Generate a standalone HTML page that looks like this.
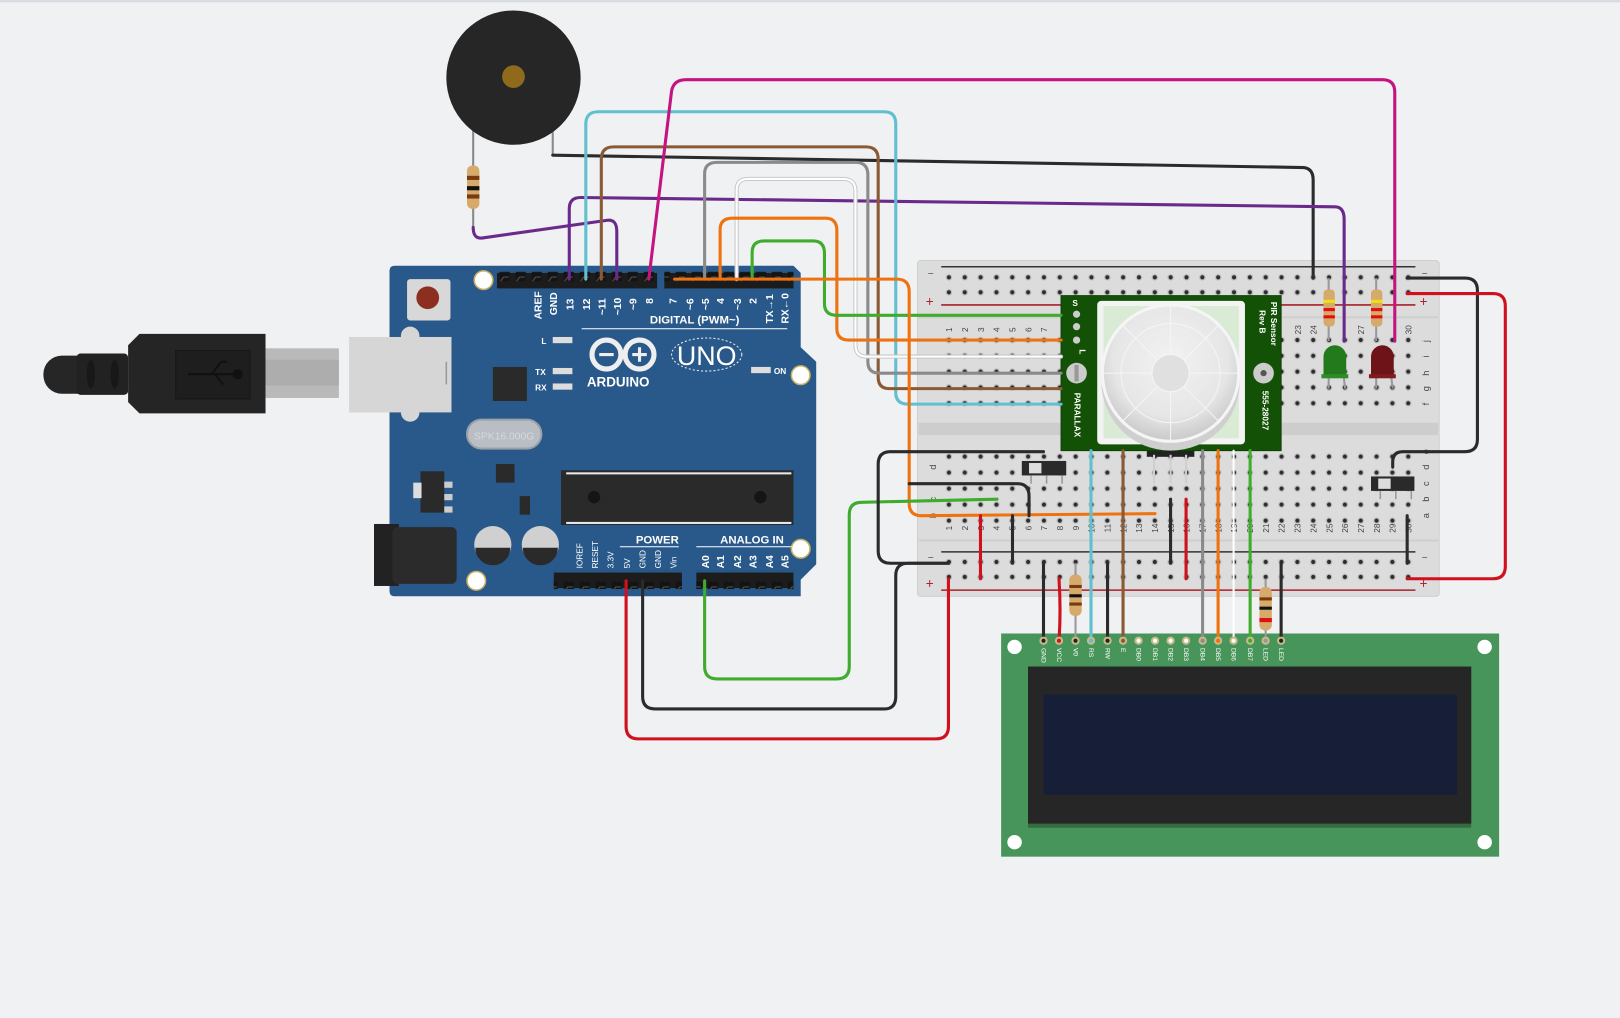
<!DOCTYPE html>
<html><head><meta charset="utf-8">
<style>
html,body{margin:0;padding:0;background:#eff1f3;}
svg{display:block;}
text{font-family:"Liberation Sans",sans-serif;}
</style></head>
<body>
<svg width="1620" height="1018" viewBox="0 0 1568 985" xmlns="http://www.w3.org/2000/svg">
<defs>
<pattern id="holes" x="910.8" y="0" width="15.33" height="15.3" patternUnits="userSpaceOnUse">
<circle cx="7.67" cy="7.65" r="3.2" fill="#bdbdbd"/><circle cx="7.67" cy="7.65" r="2" fill="#2d2d2d"/>
</pattern>
<pattern id="holes2" x="910.8" y="0" width="15.33" height="14.5" patternUnits="userSpaceOnUse">
<circle cx="7.67" cy="7.25" r="3.2" fill="#bdbdbd"/><circle cx="7.67" cy="7.25" r="2" fill="#2d2d2d"/>
</pattern>
<pattern id="holes3" x="910.8" y="0" width="15.33" height="15.5" patternUnits="userSpaceOnUse">
<circle cx="7.67" cy="7.75" r="3.2" fill="#bdbdbd"/><circle cx="7.67" cy="7.75" r="2" fill="#2d2d2d"/>
</pattern>
<radialGradient id="dome" cx="0.5" cy="0.4" r="0.6"><stop offset="0" stop-color="#f2f2f2"/><stop offset="0.7" stop-color="#e6e6e6"/><stop offset="1" stop-color="#c9c9c9"/></radialGradient>
<pattern id="hdr" x="0" y="0" width="15.5" height="20" patternUnits="userSpaceOnUse">
<rect x="3" y="3" width="10" height="9" fill="#141414"/><path d="M4 12 L7 8 L12 8" stroke="#555" fill="none" stroke-width="1"/>
</pattern>
</defs>
<rect x="0" y="0" width="1568" height="2" fill="#d5dae0"/>

<!-- USB cable -->
<g>
<rect x="42" y="344" width="55" height="37" rx="18" fill="#262626"/>
<rect x="74" y="342" width="50" height="40" rx="4" fill="#222"/>
<ellipse cx="88" cy="362" rx="4" ry="14" fill="#181818"/><ellipse cx="111" cy="362" rx="4" ry="14" fill="#181818"/>
<path d="M124 334 L135 323 H257 V400 H135 L124 389 Z" fill="#252525"/>
<rect x="170" y="339" width="72" height="47" fill="#1e1e1e" stroke="#181818"/>
<path d="M182 362 H232 M205 362 L214 350 L220 350 M208 362 L216 372" stroke="#111" stroke-width="2" fill="none"/><circle cx="230" cy="362" r="5" fill="#111"/>
<rect x="257" y="337" width="71" height="48" fill="#b9b9b9"/>
<rect x="257" y="348" width="71" height="25" fill="#adadad"/>
<rect x="338" y="326" width="99" height="73" fill="#d6d6d6"/>
</g>

<!-- Arduino -->
<g>
<path d="M382 257 H768 L775 264 V336 L790 350 V546 L775 561 V577 H382 Q377 577 377 572 V262 Q377 257 382 257 Z" fill="#29598a"/>
<circle cx="397" cy="325" r="9" fill="#d6d6d6"/><circle cx="397" cy="399" r="9" fill="#d6d6d6"/>
<rect x="338" y="326" width="99" height="73" fill="#d6d6d6"/>
<line x1="432" y1="350" x2="432" y2="372" stroke="#999" stroke-width="1.5"/>
<rect x="394" y="270" width="42" height="40" rx="3" fill="#d8d8d8"/>
<circle cx="414" cy="288" r="11" fill="#8c2f20"/>
<rect x="477" y="355" width="33" height="33" fill="#2a2a2a"/>
<rect x="452" y="406" width="72" height="28" rx="14" fill="#b9bec4" stroke="#9aa0a6" stroke-width="2"/>
<text x="488" y="425" font-size="10" fill="#d6d8da" text-anchor="middle">SPK16.000G</text>
<rect x="480" y="449" width="18" height="18" fill="#2a2a2a"/>
<rect x="407" y="456" width="23" height="40" fill="#2a2a2a"/><rect x="400" y="467" width="8" height="15" fill="#ddd"/>
<rect x="430" y="478" width="8" height="6" fill="#ccc"/><rect x="430" y="466" width="8" height="6" fill="#ccc"/><rect x="430" y="490" width="8" height="6" fill="#ccc"/>
<rect x="503" y="480" width="10" height="18" fill="#2a2a2a"/>
<rect x="362" y="507" width="24" height="60" fill="#222"/><rect x="380" y="510" width="62" height="55" rx="5" fill="#2b2b2b"/>
<circle cx="477" cy="527" r="18" fill="#d0d0d0"/><path d="M460 530 A17 17 0 0 0 494 530 Z" fill="#2a2a2a"/>
<circle cx="523" cy="527" r="18" fill="#d0d0d0"/><path d="M506 530 A17 17 0 0 0 540 530 Z" fill="#2a2a2a"/>
<rect x="543" y="455" width="225" height="53" fill="#2a2a2a"/>
<circle cx="575" cy="481" r="6" fill="#151515"/><circle cx="736" cy="481" r="6" fill="#151515"/>
<g fill="#e8e8e8"><rect x="548" y="457" width="218" height="2"/><rect x="548" y="505" width="218" height="2"/></g>
<rect x="481" y="264" width="155" height="15" fill="#1c1c1c"/><rect x="481" y="262" width="155" height="18" fill="url(#hdr)"/>
<rect x="643" y="264" width="125" height="15" fill="#1c1c1c"/><rect x="643" y="262" width="125" height="18" fill="url(#hdr)"/>
<rect x="536" y="554" width="124" height="15" fill="#1c1c1c"/><rect x="536" y="552" width="124" height="18" fill="url(#hdr)"/>
<rect x="674" y="554" width="94" height="15" fill="#1c1c1c"/><rect x="674" y="552" width="94" height="18" fill="url(#hdr)"/>
<g fill="#fff"><circle cx="468" cy="271" r="9" stroke="#c8b060" stroke-width="1.5"/><circle cx="775" cy="363" r="9" stroke="#c8b060" stroke-width="1.5"/><circle cx="775" cy="531" r="9" stroke="#c8b060" stroke-width="1.5"/><circle cx="461" cy="562" r="9" stroke="#c8b060" stroke-width="1.5"/></g>
<g font-size="10" fill="#fff" font-weight="bold">
<text transform="translate(524,309) rotate(-90)">AREF</text>
<text transform="translate(539,305) rotate(-90)">GND</text>
<text transform="translate(555,300) rotate(-90)">13</text>
<text transform="translate(571,300) rotate(-90)">12</text>
<text transform="translate(586,305) rotate(-90)">~11</text>
<text transform="translate(601,305) rotate(-90)">~10</text>
<text transform="translate(616,300) rotate(-90)">~9</text>
<text transform="translate(632,294) rotate(-90)">8</text>
<text transform="translate(655,294) rotate(-90)">7</text>
<text transform="translate(671,300) rotate(-90)">~6</text>
<text transform="translate(686,300) rotate(-90)">~5</text>
<text transform="translate(701,294) rotate(-90)">4</text>
<text transform="translate(717,300) rotate(-90)">~3</text>
<text transform="translate(732,294) rotate(-90)">2</text>
<text transform="translate(748,313) rotate(-90)">TX→1</text>
<text transform="translate(763,313) rotate(-90)">RX←0</text>
<text x="629" y="313" font-size="11">DIGITAL (PWM~)</text>
<text x="657" y="526" font-size="11" text-anchor="end">POWER</text>
<text x="697" y="526" font-size="11">ANALOG IN</text>
<text transform="translate(564,550) rotate(-90)" font-size="8" font-weight="normal">IOREF</text>
<text transform="translate(579,550) rotate(-90)" font-size="8" font-weight="normal">RESET</text>
<text transform="translate(594,550) rotate(-90)" font-size="8" font-weight="normal">3.3V</text>
<text transform="translate(610,550) rotate(-90)" font-size="8" font-weight="normal">5V</text>
<text transform="translate(625,550) rotate(-90)" font-size="8" font-weight="normal">GND</text>
<text transform="translate(640,550) rotate(-90)" font-size="8" font-weight="normal">GND</text>
<text transform="translate(655,550) rotate(-90)" font-size="8" font-weight="normal">Vin</text>
<text transform="translate(686,550) rotate(-90)">A0</text>
<text transform="translate(701,550) rotate(-90)">A1</text>
<text transform="translate(717,550) rotate(-90)">A2</text>
<text transform="translate(732,550) rotate(-90)">A3</text>
<text transform="translate(748,550) rotate(-90)">A4</text>
<text transform="translate(763,550) rotate(-90)">A5</text>
<text x="524" y="333" font-size="8">L</text>
<text x="518" y="363" font-size="8">TX</text>
<text x="518" y="378" font-size="8">RX</text>
<text x="749" y="362" font-size="8">ON</text>
<text x="568" y="374" font-size="13">ARDUINO</text>
</g>
<line x1="563" y1="318" x2="762" y2="318" stroke="#fff" stroke-width="1"/>
<line x1="600" y1="529" x2="657" y2="529" stroke="#fff" stroke-width="1"/>
<line x1="674" y1="529" x2="766" y2="529" stroke="#fff" stroke-width="1"/>
<g fill="#ddd"><rect x="535" y="326" width="19" height="6"/><rect x="535" y="356" width="19" height="6"/><rect x="535" y="371" width="19" height="6"/><rect x="727" y="355" width="19" height="6"/></g>
<g stroke="#eee" stroke-width="5" fill="none"><circle cx="587" cy="343" r="14"/><circle cx="619" cy="343" r="14"/></g>
<path d="M580 343 H594 M612 343 H626 M619 336 V350" stroke="#eee" stroke-width="3"/>
<ellipse cx="684" cy="343" rx="34" ry="16" fill="none" stroke="#eee" stroke-width="1" stroke-dasharray="2 2"/>
<text x="684" y="353" font-size="26" fill="#fff" text-anchor="middle">UNO</text>
</g>

<!-- Breadboard -->
<g>
<rect x="888" y="252" width="505" height="325" rx="3" fill="#dcdcdc" stroke="#cfcfcf"/>
<rect x="889" y="409" width="503" height="12" fill="#cdcdcd"/>
<rect x="889" y="306" width="503" height="2" fill="#cfcfcf"/><rect x="889" y="522" width="503" height="2" fill="#cfcfcf"/>
<line x1="911" y1="258" x2="1370" y2="258" stroke="#333" stroke-width="1.5"/>
<line x1="911" y1="295" x2="1370" y2="295" stroke="#a8212a" stroke-width="1.5"/>
<line x1="911" y1="534" x2="1370" y2="534" stroke="#333" stroke-width="1.5"/>
<line x1="911" y1="571" x2="1370" y2="571" stroke="#a8212a" stroke-width="1.5"/>
<rect x="910.8" y="261.75" width="460" height="29" fill="url(#holes2)"/>
<rect x="910.8" y="322.35" width="460" height="76.5" fill="url(#holes)"/>
<rect x="910.8" y="429.25" width="460" height="77.5" fill="url(#holes3)"/>
<rect x="910.8" y="537.75" width="460" height="29" fill="url(#holes2)"/>
<g font-size="10" fill="#555">
<text x="898" y="268">−</text><text x="896" y="296" fill="#b02030" font-size="13">+</text>
<text x="1376" y="268">−</text><text x="1374" y="296" fill="#b02030" font-size="13">+</text>
<text x="898" y="543">−</text><text x="896" y="569" fill="#b02030" font-size="13">+</text>
<text x="1376" y="543">−</text><text x="1374" y="569" fill="#b02030" font-size="13">+</text>
</g>
<g font-size="9" fill="#444" text-anchor="middle">
<text transform="translate(1383,330) rotate(-90)">j</text><text transform="translate(1383,345) rotate(-90)">i</text><text transform="translate(1383,361) rotate(-90)">h</text><text transform="translate(1383,376) rotate(-90)">g</text><text transform="translate(1383,391) rotate(-90)">f</text>
<text transform="translate(1383,437) rotate(-90)">e</text><text transform="translate(1383,452) rotate(-90)">d</text><text transform="translate(1383,468) rotate(-90)">c</text><text transform="translate(1383,483) rotate(-90)">b</text><text transform="translate(1383,499) rotate(-90)">a</text>
<text transform="translate(906,452) rotate(-90)">d</text><text transform="translate(906,483) rotate(-90)">c</text><text transform="translate(906,499) rotate(-90)">b</text>
</g>
<g font-size="8" fill="#444" text-anchor="middle">
<text transform="translate(921.5,319) rotate(-90)">1</text><text transform="translate(936.8,319) rotate(-90)">2</text><text transform="translate(952.2,319) rotate(-90)">3</text><text transform="translate(967.5,319) rotate(-90)">4</text><text transform="translate(982.8,319) rotate(-90)">5</text><text transform="translate(998.2,319) rotate(-90)">6</text><text transform="translate(1013.5,319) rotate(-90)">7</text>
<text transform="translate(1259,319) rotate(-90)">23</text><text transform="translate(1274,319) rotate(-90)">24</text><text transform="translate(1320,319) rotate(-90)">27</text><text transform="translate(1366,319) rotate(-90)">30</text>
<text transform="translate(921.5,511) rotate(-90)">1</text><text transform="translate(936.8,511) rotate(-90)">2</text><text transform="translate(952.2,511) rotate(-90)">3</text><text transform="translate(967.5,511) rotate(-90)">4</text><text transform="translate(982.8,511) rotate(-90)">5</text><text transform="translate(998.2,511) rotate(-90)">6</text><text transform="translate(1013.5,511) rotate(-90)">7</text><text transform="translate(1028.8,511) rotate(-90)">8</text><text transform="translate(1044.2,511) rotate(-90)">9</text><text transform="translate(1059.5,511) rotate(-90)">10</text><text transform="translate(1074.8,511) rotate(-90)">11</text><text transform="translate(1090.2,511) rotate(-90)">12</text><text transform="translate(1105.5,511) rotate(-90)">13</text><text transform="translate(1120.8,511) rotate(-90)">14</text><text transform="translate(1136.2,511) rotate(-90)">15</text><text transform="translate(1151.5,511) rotate(-90)">16</text><text transform="translate(1166.8,511) rotate(-90)">17</text><text transform="translate(1182.2,511) rotate(-90)">18</text><text transform="translate(1197.5,511) rotate(-90)">19</text><text transform="translate(1212.8,511) rotate(-90)">20</text><text transform="translate(1228.2,511) rotate(-90)">21</text><text transform="translate(1243.5,511) rotate(-90)">22</text><text transform="translate(1258.8,511) rotate(-90)">23</text><text transform="translate(1274.2,511) rotate(-90)">24</text><text transform="translate(1289.5,511) rotate(-90)">25</text><text transform="translate(1304.8,511) rotate(-90)">26</text><text transform="translate(1320.2,511) rotate(-90)">27</text><text transform="translate(1335.5,511) rotate(-90)">28</text><text transform="translate(1350.8,511) rotate(-90)">29</text><text transform="translate(1366,511) rotate(-90)">30</text>
</g>
</g>

<!-- LCD -->
<g>
<rect x="969" y="613" width="482" height="216" fill="#47955a"/>
<circle cx="982" cy="626" r="7" fill="#fff"/><circle cx="1437" cy="626" r="7" fill="#fff"/><circle cx="982" cy="815" r="7" fill="#fff"/><circle cx="1437" cy="815" r="7" fill="#fff"/>
<rect x="995" y="645" width="429" height="156" fill="#356b41"/>
<rect x="995" y="645" width="429" height="152" fill="#262626"/>
<rect x="1010" y="672" width="400" height="97" fill="#161e38"/>
<g font-size="6.5" fill="#fff" text-anchor="start">
<text transform="translate(1008,627) rotate(90)">GND</text><text transform="translate(1023,627) rotate(90)">VCC</text><text transform="translate(1039,627) rotate(90)">V0</text><text transform="translate(1054,627) rotate(90)">RS</text><text transform="translate(1070,627) rotate(90)">RW</text><text transform="translate(1085,627) rotate(90)">E</text><text transform="translate(1100,627) rotate(90)">DB0</text><text transform="translate(1116,627) rotate(90)">DB1</text><text transform="translate(1131,627) rotate(90)">DB2</text><text transform="translate(1146,627) rotate(90)">DB3</text><text transform="translate(1162,627) rotate(90)">DB4</text><text transform="translate(1177,627) rotate(90)">DB5</text><text transform="translate(1192,627) rotate(90)">DB6</text><text transform="translate(1208,627) rotate(90)">DB7</text><text transform="translate(1223,627) rotate(90)">LED</text><text transform="translate(1238,627) rotate(90)">LED</text>
</g>
</g>

<!-- PIR -->
<g>
<rect x="1110" y="432" width="46" height="10" fill="#222"/>
<g stroke="#cfcfcf" stroke-width="2"><line x1="1117" y1="440" x2="1117" y2="468"/><line x1="1133" y1="440" x2="1133" y2="468"/><line x1="1148" y1="440" x2="1148" y2="468"/></g>
<rect x="1027" y="286" width="213" height="150" fill="#135206" stroke="#0e4004"/>
<rect x="1062" y="291" width="143" height="139" rx="4" fill="#f3f3f3"/>
<rect x="1068" y="296" width="131" height="128" fill="#d9ead5"/>
<circle cx="1133" cy="369" r="67" fill="#cfcfcf"/>
<circle cx="1133" cy="361" r="66" fill="url(#dome)" stroke="#f5f5f5" stroke-width="3"/>
<circle cx="1133" cy="361" r="48" fill="none" stroke="#f5f5f5" stroke-width="1"/>
<circle cx="1133" cy="361" r="18" fill="#e0e0e0" stroke="#f5f5f5"/>
<g stroke="#f5f5f5" stroke-width="1"><line x1="1133" y1="295" x2="1133" y2="343"/><line x1="1067" y1="361" x2="1115" y2="361"/><line x1="1151" y1="361" x2="1199" y2="361"/><line x1="1133" y1="379" x2="1133" y2="427"/><line x1="1086" y1="314" x2="1120" y2="348"/><line x1="1180" y1="314" x2="1146" y2="348"/><line x1="1086" y1="408" x2="1120" y2="374"/><line x1="1180" y1="408" x2="1146" y2="374"/></g>
<g fill="#ccc"><circle cx="1042" cy="304" r="3.5"/><circle cx="1042" cy="316" r="3.5"/><circle cx="1042" cy="329" r="3.5"/></g>
<circle cx="1042" cy="361" r="10" fill="#ccc"/><rect x="1040" y="353" width="4" height="16" fill="#999"/>
<circle cx="1223" cy="361" r="10" fill="#ccc"/><circle cx="1223" cy="361" r="3" fill="#555"/>
<g fill="#fff" font-size="8" font-family="Liberation Mono,monospace" font-weight="bold">
<text x="1038" y="296">S</text><text transform="translate(1045,338) rotate(90)">L</text>
<text transform="translate(1040,380) rotate(90)">PARALLAX</text>
<text transform="translate(1230,292) rotate(90)">PIR Sensor</text>
<text transform="translate(1219,300) rotate(90)">Rev B</text>
<text transform="translate(1222,378) rotate(90)">555-28027</text>
</g>
</g>

<!-- switches -->
<g>
<rect x="989" y="446" width="43" height="14" fill="#2a2a2a"/><rect x="996" y="448" width="12" height="10" fill="#ddd"/>
<g stroke="#999" stroke-width="1.5"><line x1="998" y1="460" x2="998" y2="468"/><line x1="1013" y1="460" x2="1013" y2="468"/><line x1="1028" y1="460" x2="1028" y2="468"/></g>
<rect x="1327" y="461" width="42" height="14" fill="#2a2a2a"/><rect x="1334" y="463" width="12" height="10" fill="#ddd"/>
<g stroke="#999" stroke-width="1.5"><line x1="1336" y1="475" x2="1336" y2="483"/><line x1="1351" y1="475" x2="1351" y2="483"/><line x1="1366" y1="475" x2="1366" y2="483"/></g>
</g>

<!-- LEDs & resistors on board -->
<g>
<g stroke="#999" stroke-width="2"><line x1="1286" y1="269" x2="1286" y2="330"/><line x1="1332" y1="269" x2="1332" y2="330"/>
<line x1="1286" y1="360" x2="1286" y2="376"/><line x1="1300" y1="360" x2="1302" y2="376"/><line x1="1332" y1="360" x2="1332" y2="376"/><line x1="1346" y1="360" x2="1348" y2="376"/></g>
<rect x="1281" y="280" width="11" height="36" rx="4" fill="#d6aa6a"/><rect x="1281" y="290" width="11" height="3" fill="#f0e010"/><rect x="1281" y="298" width="11" height="3" fill="#e01010"/><rect x="1281" y="305" width="11" height="3" fill="#e01010"/>
<rect x="1327" y="280" width="11" height="36" rx="4" fill="#d6aa6a"/><rect x="1327" y="290" width="11" height="3" fill="#f0e010"/><rect x="1327" y="298" width="11" height="3" fill="#e01010"/><rect x="1327" y="305" width="11" height="3" fill="#e01010"/>
<path d="M1281 365 V345 A11 11 0 0 1 1303 345 V365 Z" fill="#237a1c"/><rect x="1279" y="362" width="26" height="4" fill="#2d8d26"/>
<path d="M1327 365 V345 A11 11 0 0 1 1349 345 V365 Z" fill="#6e1418"/><rect x="1325" y="362" width="26" height="4" fill="#801b20"/>
</g>

<!-- Buzzer -->
<g>
<line x1="458" y1="125" x2="458" y2="220" stroke="#888" stroke-width="2"/>
<line x1="535" y1="125" x2="535" y2="150" stroke="#888" stroke-width="2"/>
<ellipse cx="497" cy="75" rx="65" ry="65" fill="#262626"/>
<circle cx="497" cy="74" r="11" fill="#8f6a1c"/>
<rect x="452" y="160" width="12" height="42" rx="5" fill="#d6aa6a"/>
<rect x="452" y="170" width="12" height="4" fill="#7a3a10"/><rect x="452" y="180" width="12" height="4" fill="#111"/><rect x="452" y="188" width="12" height="4" fill="#7a3a10"/>
</g>

<!-- Wires -->
<g fill="none" stroke-width="3" stroke-linecap="round" stroke-linejoin="round">
<path d="M535 150 L1262 162 Q1271 163 1271 174 V269" stroke="#2b2b2b"/>
<path d="M458 220 Q458 232 468 230 L588 213 Q597 212 597 224 V270" stroke="#6a2a8c"/>
<path d="M551 270 V202 Q551 191 562 191 L1292 200 Q1301 200 1301 212 V330" stroke="#6a2a8c"/>
<path d="M567 270 V120 Q567 108 579 108 H856 Q867 108 867 120 V380 Q867 391 879 391 H1027" stroke="#62bfd0"/>
<path d="M582 270 V154 Q582 142 594 142 H838 Q850 142 850 154 V365 Q850 376 861 376 H1027" stroke="#8a5a34"/>
<path d="M628 270 L650 88 Q652 77 664 77 H1338 Q1350 77 1350 89 V330" stroke="#c41480"/>
<path d="M682 270 V168 Q682 157 694 157 H828 Q840 157 840 169 V350 Q840 361 851 361 H1027" stroke="#8a8a8a"/>
<path d="M713 270 V184 Q713 173 724 173 H816 Q828 173 828 185 V334 Q828 345 839 345 H1027" stroke="#c8c8c8" stroke-width="4"/>
<path d="M713 270 V184 Q713 173 724 173 H816 Q828 173 828 185 V334 Q828 345 839 345 H1027" stroke="#fff" stroke-width="2"/>
<path d="M697 270 V222 Q697 211 709 211 H799 Q810 211 810 223 V318 Q810 329 822 329 H1027" stroke="#ee7310"/>
<path d="M728 270 V244 Q728 233 740 233 H787 Q798 233 798 245 V294 Q798 305 810 305 H1027" stroke="#3fac2d"/>
<path d="M653 270 H868 Q880 270 880 282 V487 Q880 499 892 499 L1118 497" stroke="#ee7310"/>
<path d="M682 562 V645 Q682 657 694 657 H810 Q822 657 822 645 V498 Q822 486 834 486 L965 483" stroke="#3fac2d"/>
<path d="M622 562 V674 Q622 686 634 686 H856 Q867 686 867 674 V557 Q867 545 879 545 H918" stroke="#2b2b2b"/>
<path d="M606 562 V703 Q606 715 618 715 H906 Q918 715 918 703 V560" stroke="#d0101c"/>
<path d="M1010 437 H862 Q850 437 850 449 V533 Q850 545 862 545 H918" stroke="#2b2b2b"/>
<path d="M880 468 H985 Q996 468 996 480 V499" stroke="#2b2b2b"/>
<path d="M1362 269 H1418 Q1430 269 1430 281 V425 Q1430 437 1418 437 H1358 Q1348 437 1348 447 V452" stroke="#2b2b2b"/>
<path d="M1362 284 H1445 Q1457 284 1457 296 V548 Q1457 560 1445 560 H1362" stroke="#d0101c"/>
<path d="M1362 499 V545" stroke="#2b2b2b"/>
<path d="M949 499 V560" stroke="#d0101c"/>
<path d="M980 499 V545" stroke="#2b2b2b"/>
<path d="M1133 483 V545" stroke="#2b2b2b"/>
<path d="M1148 483 V560" stroke="#d0101c"/>
<path d="M1010 545 V620" stroke="#2b2b2b"/>
<path d="M1025 560 Q1027 590 1025 620" stroke="#d0101c"/>
<path d="M1056 436 V620" stroke="#62bfd0"/>
<path d="M1072 545 V620" stroke="#2b2b2b"/>
<path d="M1087 436 V620" stroke="#8a5a34"/>
<path d="M1164 436 V620" stroke="#8a8a8a"/>
<path d="M1179 436 V620" stroke="#ee7310"/>
<path d="M1194 436 V620" stroke="#fff" stroke-width="2"/>
<path d="M1210 436 V620" stroke="#3fac2d"/>
<path d="M1240 545 V620" stroke="#2b2b2b"/>
</g>
<g>
<line x1="1041" y1="545" x2="1041" y2="620" stroke="#999" stroke-width="2"/>
<rect x="1035" y="556" width="12" height="40" rx="5" fill="#d6aa6a"/><rect x="1035" y="566" width="12" height="3" fill="#7a3a10"/><rect x="1035" y="575" width="12" height="3" fill="#111"/><rect x="1035" y="583" width="12" height="3" fill="#7a3a10"/>
<line x1="1225" y1="560" x2="1225" y2="620" stroke="#999" stroke-width="2"/>
<rect x="1219" y="568" width="12" height="42" rx="5" fill="#d6aa6a"/><rect x="1219" y="578" width="12" height="3" fill="#7a3a10"/><rect x="1219" y="587" width="12" height="3" fill="#111"/><rect x="1219" y="598" width="12" height="4" fill="#e01010"/>
</g>
<g stroke="#c9b98a" stroke-width="2">
<circle cx="1010" cy="620" r="3" fill="#222"/><circle cx="1025" cy="620" r="3" fill="#d0101c"/><circle cx="1041" cy="620" r="3" fill="#222"/><circle cx="1056" cy="620" r="3" fill="#62bfd0"/><circle cx="1072" cy="620" r="3" fill="#222"/><circle cx="1087" cy="620" r="3" fill="#8a5a34"/><circle cx="1102" cy="620" r="3" fill="#fff"/><circle cx="1118" cy="620" r="3" fill="#fff"/><circle cx="1133" cy="620" r="3" fill="#fff"/><circle cx="1148" cy="620" r="3" fill="#fff"/><circle cx="1164" cy="620" r="3" fill="#8a8a8a"/><circle cx="1179" cy="620" r="3" fill="#ee7310"/><circle cx="1194" cy="620" r="3" fill="#fff"/><circle cx="1210" cy="620" r="3" fill="#3fac2d"/><circle cx="1225" cy="620" r="3" fill="#999"/><circle cx="1240" cy="620" r="3" fill="#222"/>
</g>
</svg>
</body></html>
